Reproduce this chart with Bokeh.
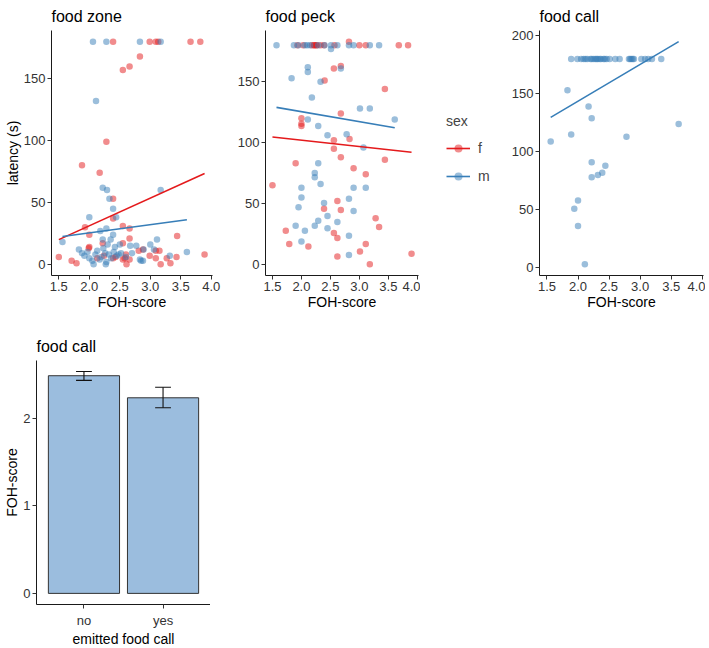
import numpy as np
from bokeh.plotting import figure
from bokeh.models import (Range1d, FixedTicker, PrintfTickFormatter, Legend, LegendItem)
from bokeh.layouts import row, column
from bokeh.embed import file_html
from bokeh.resources import INLINE

FONT = "Liberation Sans"
RED = "#E41A1C"
BLUE = "#377EB8"

# ---------------- data: food zone ----------------
zone_f_x = [2.39, 2.99, 3.09, 3.13, 3.66, 3.82, 2.55, 2.66, 2.83, 2.28, 1.88, 2.17,
            2.39, 2.39, 1.93, 2.00, 2.55, 2.66, 2.66, 2.22, 2.55, 3.44, 2.00, 1.99,
            1.50, 1.71, 1.79, 2.13, 2.39, 2.43, 2.55, 2.58, 2.61, 2.66, 2.60,
            2.81, 2.88, 2.99, 3.09, 3.15, 3.09, 3.17, 3.27, 3.33, 3.43, 3.89, 2.24]
zone_f_y = [180, 180, 180, 180, 180, 180, 157, 160, 168, 99, 80, 74,
            53, 37, 30, 24, 31, 29, 21, 17, 17, 23, 14, 13,
            6, 3, 1, 5, 5, 6, 4, 5, 0, 4, 8,
            11, 12, 7, 11, 11, 5, 0, 5, 1, 6, 8, 7]
zone_m_x = [2.06, 2.28, 2.83, 3.17, 2.11, 2.22, 2.29, 2.33, 2.39, 2.44, 2.00, 3.17,
            2.18, 2.28, 2.39, 2.22, 2.35, 1.56, 2.48, 3.11, 3.00, 2.77, 2.89, 3.06,
            3.60, 2.83, 2.88, 2.85, 3.32, 1.83, 1.88, 1.92, 1.97, 2.00, 2.05, 2.07,
            2.10, 2.13, 2.17, 2.20, 2.23, 2.26, 2.28, 2.30, 2.32, 2.36, 2.40, 2.42,
            2.45, 2.50, 2.52, 2.60, 2.67, 2.70, 2.27]
zone_m_y = [180, 180, 180, 180, 132, 62, 60, 53, 45, 38, 38, 60,
            27, 29, 24, 20, 20, 18, 8, 20, 16, 15, 12, 12,
            10, 4, 3, 3, 7, 12, 9, 7, 10, 5, 3, 0,
            8, 11, 4, 6, 13, 9, 2, 16, 8, 5, 10, 14,
            7, 16, 9, 6, 15, 9, 0]
zone_fit_f_x = [1.50, 3.89]
zone_fit_f_y = [20.0, 73.5]
zone_fit_m_x = [1.56, 3.60]
zone_fit_m_y = [22.5, 36.0]

# ---------------- data: food peck ----------------
peck_f_x = [1.93, 2.03, 2.18, 2.22, 2.22, 2.26, 2.26, 2.33, 2.39, 2.57, 3.00, 3.11, 3.68, 3.84, 2.82,
            2.56, 2.68, 2.40, 3.44, 2.68, 2.00, 2.00, 2.00, 2.56, 2.83, 2.56, 2.68, 3.44,
            1.90, 2.90, 3.11, 1.50, 2.62, 2.39, 2.68, 3.28, 3.34, 1.73, 2.56, 2.62,
            1.79, 2.12, 3.11, 3.01, 2.62, 3.18, 3.90]
peck_f_y = [180, 180, 180, 180, 180, 180, 180, 180, 180, 180, 180, 180, 180, 180, 183,
            161, 163, 151, 144, 124, 120, 115.5, 113.6, 102, 103, 95, 88, 86,
            83, 79, 74, 65, 52, 45.6, 44.6, 37.8, 30.7, 27.7, 25.8, 21.7,
            16.8, 14.7, 16.8, 10.6, 6.5, 0, 8.7]
peck_m_x = [1.57, 1.87, 1.95, 2.06, 2.10, 2.15, 2.29, 2.40, 2.51, 2.62, 2.82, 2.90, 3.18, 3.34, 2.51,
            2.11, 2.11, 2.68, 1.83, 2.33, 2.18, 3.01, 3.18, 3.61, 2.11, 2.29, 2.45, 2.78,
            3.07, 2.29, 2.23, 2.23, 2.33, 2.00, 2.90, 3.11, 2.00, 2.82, 2.39, 1.95, 2.90,
            2.45, 2.29, 2.62, 1.90, 2.23, 2.06, 2.45, 2.00, 2.82, 2.82]
peck_m_y = [180, 180, 180, 180, 180, 180, 180, 180, 180, 180, 180, 180, 180, 180, 177,
            162, 158, 161, 153, 150, 137, 128, 128, 119, 119, 113.6, 106, 107,
            96, 83, 75, 71.5, 66, 63, 63, 63, 55, 54, 50.5, 47, 43.8,
            39.7, 35.9, 34.8, 31.8, 31.8, 27.7, 29.6, 18.8, 23.6, 7.6]
peck_fit_f_x = [1.50, 3.90]
peck_fit_f_y = [104.6, 92.1]
peck_fit_m_x = [1.57, 3.61]
peck_fit_m_y = [129.0, 112.2]

# ---------------- data: food call (males only) ----------------
call_m_x = [1.89, 1.99, 2.05, 2.09, 2.12, 2.15, 2.20, 2.22, 2.25, 2.28, 2.30, 2.32, 2.35,
            2.37, 2.41, 2.43, 2.46, 2.51, 2.60, 2.67, 2.82, 2.84, 2.86, 2.88, 2.90,
            3.02, 3.08, 3.13, 3.19, 3.34,
            1.83, 2.17, 2.22, 1.89, 1.56, 2.78, 3.62, 2.22, 2.44, 2.39, 2.32, 2.22,
            2.00, 1.94, 2.00, 2.11]
call_m_y = [180, 180, 180, 180, 180, 180, 180, 180, 180, 180, 180, 180, 180,
            180, 180, 180, 180, 180, 180, 180, 180, 180, 180, 180, 180,
            180, 180, 180, 180, 180,
            153, 139, 129, 115, 109, 113, 124, 91, 88, 82, 80, 78,
            58, 51, 36, 3]
call_fit_m_x = [1.56, 3.62]
call_fit_m_y = [129.7, 195.0]

# ---------------- data: bar chart ----------------
bar_cats = ["no", "yes"]
bar_vals = [2.486, 2.234]
bar_lo = [2.433, 2.120]
bar_hi = [2.535, 2.354]

X_TICKS = [1.5, 2.0, 2.5, 3.0, 3.5, 4.0]
sex_labels = ["f", "m"]
sex_colors = [RED, BLUE]


def style(p, ylabel=None, xlabel=None):
    p.xgrid.visible = False
    p.ygrid.visible = False
    p.outline_line_color = None
    p.background_fill_color = "white"
    p.border_fill_color = "white"
    for ax in p.axis:
        ax.axis_line_color = "#1a1a1a"
        ax.axis_line_width = 1
        ax.major_tick_line_color = "#333333"
        ax.major_tick_out = 4
        ax.major_tick_in = 0
        ax.minor_tick_line_color = None
        ax.major_label_text_font = FONT
        ax.major_label_text_font_size = "13px"
        ax.major_label_text_color = "#333333"
        ax.major_label_standoff = 2
        ax.axis_label_text_font = FONT
        ax.axis_label_text_font_size = "14px"
        ax.axis_label_text_font_style = "normal"
        ax.axis_label_text_color = "#000000"
        ax.axis_label_standoff = 0
    if ylabel:
        p.yaxis.axis_label = ylabel
    if xlabel:
        p.xaxis.axis_label = xlabel
    p.title.text_font = FONT
    p.title.text_font_size = "16px"
    p.title.text_font_style = "normal"
    p.title.text_color = "#000000"
    p.title.align = "left"
    p.title.standoff = 11


def scatter_panel(title, fw, yr, yticks, fx, fy, mx, my, fits, ylabel=None, ml=30, mr=4):
    p = figure(frame_width=fw, frame_height=245, x_range=Range1d(1.38, 4.02), y_range=Range1d(*yr),
               output_backend="svg", toolbar_location=None, title=title,
               min_border_left=ml, min_border_right=mr, min_border_top=30, min_border_bottom=40)
    if fx is not None:
        p.scatter(fx, fy, size=6.5, fill_color=RED, fill_alpha=0.5, line_color=None)
    p.scatter(mx, my, size=6.5, fill_color=BLUE, fill_alpha=0.5, line_color=None)
    for xs, ys, col in fits:
        p.line(xs, ys, line_color=col, line_width=1.6)
    p.xaxis.ticker = FixedTicker(ticks=X_TICKS)
    p.xaxis.formatter = PrintfTickFormatter(format="%.1f")
    p.yaxis.ticker = FixedTicker(ticks=yticks)
    style(p, ylabel=ylabel, xlabel="FOH-score")
    return p


p1 = scatter_panel("food zone", 161, (-9, 189), [0, 50, 100, 150],
                   zone_f_x, zone_f_y, zone_m_x, zone_m_y,
                   [(zone_fit_f_x, zone_fit_f_y, RED), (zone_fit_m_x, zone_fit_m_y, BLUE)],
                   ylabel="latency (s)", ml=51, mr=18)
p2 = scatter_panel("food peck", 153, (-9.15, 192.15), [0, 50, 100, 150],
                   peck_f_x, peck_f_y, peck_m_x, peck_m_y,
                   [(peck_fit_f_x, peck_fit_f_y, RED), (peck_fit_m_x, peck_fit_m_y, BLUE)],
                   ml=35, mr=2)
p3 = scatter_panel("food call", 164, (-6.6, 204.6), [0, 50, 100, 150, 200],
                   None, None, call_m_x, call_m_y,
                   [(call_fit_m_x, call_fit_m_y, BLUE)],
                   ml=30, mr=2)

# ---------------- legend panel ----------------
pl = figure(frame_width=88, frame_height=315, x_range=Range1d(0, 1), y_range=Range1d(0, 1),
            output_backend="svg", toolbar_location=None,
            min_border_left=0, min_border_right=0, min_border_top=0, min_border_bottom=0)
pl.axis.visible = False
pl.xgrid.visible = False
pl.ygrid.visible = False
pl.outline_line_color = None
items = []
for lab, col in zip(sex_labels, sex_colors):
    # renderers sit outside the visible range; they only feed the legend keys
    rl = pl.line(x=[-5, -4], y=[-5, -4], line_color=col, line_width=1.6)
    rp = pl.scatter(x=[-5], y=[-5], size=6.5, fill_color=col, fill_alpha=0.5, line_color=None)
    items.append(LegendItem(label=lab, renderers=[rl, rp]))
lg = Legend(items=items, title="sex", location=(26, 129), orientation="vertical")
lg.title_text_font = FONT
lg.title_text_font_size = "14px"
lg.title_text_font_style = "normal"
lg.title_standoff = 9
lg.label_text_font = FONT
lg.label_text_font_size = "14px"
lg.glyph_width = 24
lg.glyph_height = 20
lg.label_standoff = 8
lg.spacing = 8
lg.margin = 0
lg.padding = 0
lg.border_line_color = None
lg.background_fill_alpha = 0
pl.add_layout(lg)

# ---------------- bar chart ----------------
bx = [i + 1 for i in range(len(bar_cats))]
p4 = figure(frame_width=174, frame_height=244, x_range=Range1d(0.4, 2.6), y_range=Range1d(-0.127, 2.66),
            output_backend="svg", toolbar_location=None, title="food call",
            min_border_left=36, min_border_right=0, min_border_top=45, min_border_bottom=42)
p4.vbar(x=bx, top=bar_vals, bottom=0, width=0.9, fill_color="#9BBDDE",
        line_color="#333333", line_width=1)
p4.segment(x0=bx, x1=bx, y0=bar_lo, y1=bar_hi, line_color="#111111", line_width=1.1)
p4.segment(x0=[x - 0.1 for x in bx], x1=[x + 0.1 for x in bx], y0=bar_lo, y1=bar_lo,
           line_color="#111111", line_width=1.1)
p4.segment(x0=[x - 0.1 for x in bx], x1=[x + 0.1 for x in bx], y0=bar_hi, y1=bar_hi,
           line_color="#111111", line_width=1.1)
p4.xaxis.ticker = FixedTicker(ticks=bx)
p4.xaxis.major_label_overrides = {x: c for x, c in zip(bx, bar_cats)}
p4.yaxis.ticker = FixedTicker(ticks=[0, 1, 2])
style(p4, ylabel="FOH-score", xlabel="emitted food call")
p4.xaxis.major_label_standoff = 4

layout = column(row(p1, p2, pl, p3), p4)
html = file_html(layout, INLINE)
open("out.html", "w").write(html)
